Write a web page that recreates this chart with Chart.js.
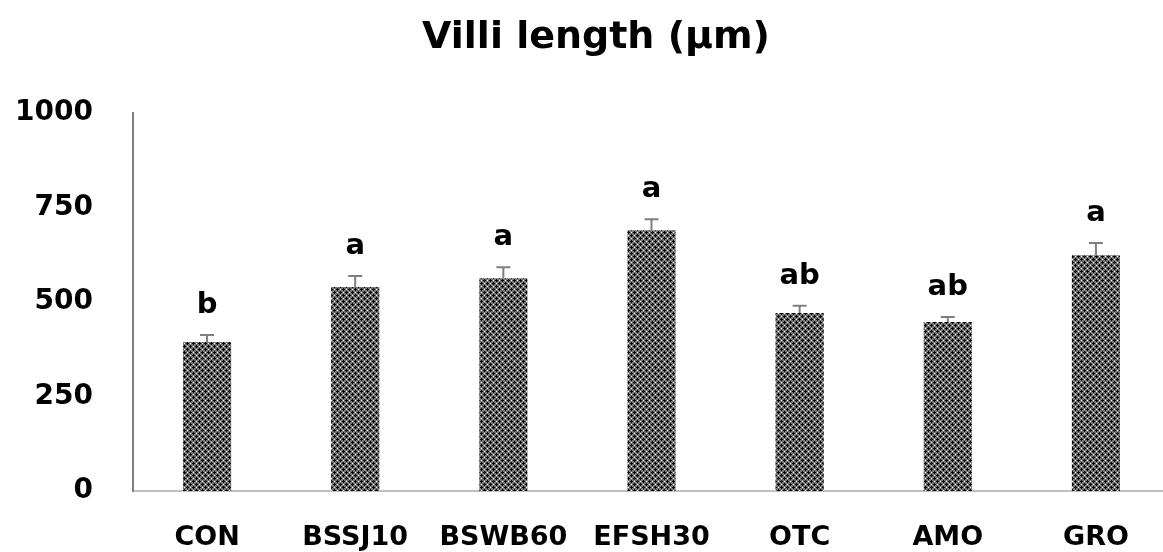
<!DOCTYPE html>
<html>
<head>
<meta charset="utf-8">
<script src="https://cdn.jsdelivr.net/npm/chart.js@4"></script>
<style>
html,body{margin:0;padding:0;background:#fff;overflow:hidden;}
#wrap{width:1163px;height:552px;overflow:hidden;}
</style>
</head>
<body>
<div id="wrap"><canvas id="c" width="1170" height="552"></canvas></div>
<script>
const categories = ["CON","BSSJ10","BSWB60","EFSH30","OTC","AMO","GRO"];
const values = [394, 540, 563, 690, 471, 447, 624];
const errors = [19, 29, 29, 29, 19, 13, 32];
const letters = ["b","a","a","a","ab","ab","a"];
const yTicks = [0, 250, 500, 750, 1000];
const titleText = "Villi length (µm)";

const FONT = "'DejaVu Sans',sans-serif";

function makePattern(){
  const t = document.createElement('canvas');
  t.width = 6; t.height = 6;
  const g = t.getContext('2d');
  g.fillStyle = '#767676'; g.fillRect(0,0,6,6);
  g.fillStyle = '#000000';
  // two plus shapes on a diagonal lattice
  [[1,1],[4,4]].forEach(([cx,cy])=>{
    g.fillRect(cx-1,cy,3,1);
    g.fillRect(cx,cy-1,1,3);
  });
  g.fillStyle = '#ffffff';
  g.fillRect(4,1,1,1); g.fillRect(1,4,1,1);
  return g.createPattern(t,'repeat');
}

const overlay = {
  id:'overlay',
  afterDatasetsDraw(chart){
    const ctx = chart.ctx;
    const meta = chart.getDatasetMeta(0);
    const ys = chart.scales.y;
    ctx.save();
    meta.data.forEach((bar,i)=>{
      const x = bar.x;
      const yTop = ys.getPixelForValue(values[i]);
      const yErr = ys.getPixelForValue(values[i]+errors[i]);
      ctx.strokeStyle = '#7f7f7f';
      ctx.lineWidth = 2;
      ctx.beginPath();
      ctx.moveTo(x, yTop); ctx.lineTo(x, yErr);
      ctx.moveTo(x-7, yErr); ctx.lineTo(x+7, yErr);
      ctx.stroke();
      ctx.fillStyle = '#000';
      ctx.font = "bold 29px " + FONT;
      ctx.textAlign = 'center';
      ctx.textBaseline = 'alphabetic';
      ctx.fillText(letters[i], x, yErr - 22);
    });
    ctx.fillStyle = '#000';
    ctx.font = "bold 38px " + FONT;
    ctx.textAlign = 'center';
    ctx.textBaseline = 'alphabetic';
    ctx.fillText(titleText, 596, 48);
    ctx.restore();
  }
};

new Chart(document.getElementById('c'), {
  type:'bar',
  data:{
    labels: categories,
    datasets:[{
      data: values,
      backgroundColor: makePattern(),
      borderWidth: 0,
      barPercentage: 0.65,
      categoryPercentage: 0.5
    }]
  },
  options:{
    responsive:false,
    animation:false,
    devicePixelRatio:1,
    layout:{padding:{left:12,right:0,top:113,bottom:0}},
    plugins:{
      legend:{display:false},
      tooltip:{enabled:false},
      title:{display:false}
    },
    scales:{
      x:{
        afterFit(a){ a.height = 61; },
        grid:{display:false, drawTicks:false},
        border:{color:'#bfbfbf', width:2},
        ticks:{color:'#000', font:{family:FONT,size:27,weight:'bold'}, padding:31, maxRotation:0, autoSkip:false}
      },
      y:{
        min:0, max:1000,
        afterFit(a){ a.width = 121; },
        afterBuildTicks(axis){ axis.ticks = yTicks.map(v=>({value:v})); },
        grid:{display:false, drawTicks:false},
        border:{color:'#7f7f7f', width:2},
        ticks:{color:'#000', font:{family:FONT,size:28,weight:'bold'}, padding:40,
               callback:(v)=>String(v)}
      }
    }
  },
  plugins:[overlay]
});
</script>
</body>
</html>
